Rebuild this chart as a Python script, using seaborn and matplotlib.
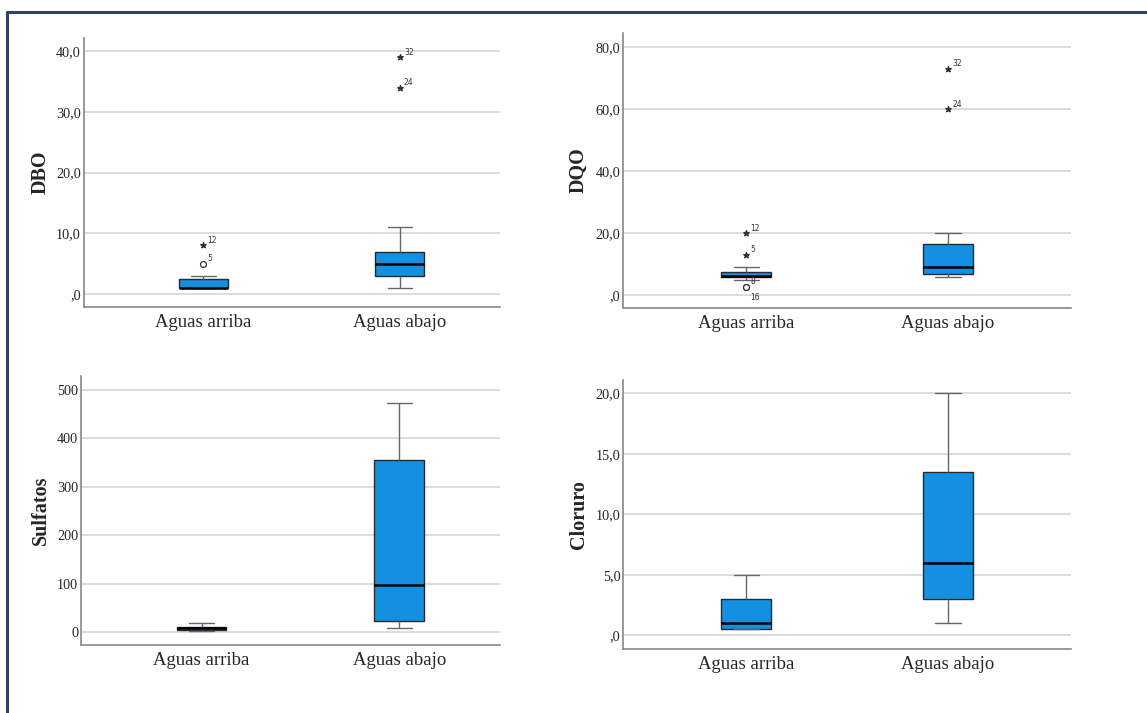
"""
Boxplots DBO / DQO / Sulfatos / Cloruro, aguas arriba vs aguas abajo
"""
import pandas as pd
import matplotlib
matplotlib.use('Agg')
import matplotlib.pyplot as plt
from matplotlib.lines import Line2D
import seaborn as sns

sns.set_style('white')
plt.rcParams['font.family'] = ['Liberation Serif', 'DejaVu Serif']

groups = ['Aguas arriba', 'Aguas abajo']

# five-number summaries: min, Q1, median, Q3, max
dbo_arriba = [1.0, 1.0, 1.0, 2.5, 3.0]
dbo_abajo = [1.0, 3.0, 5.0, 7.0, 11.0]
dqo_arriba = [5.0, 6.0, 6.3, 7.6, 9.0]
dqo_abajo = [6.0, 7.0, 9.0, 16.5, 20.0]
sulf_arriba = [2.0, 4.8, 8.0, 11.7, 19.0]
sulf_abajo = [9.6, 22.7, 97.0, 355.5, 473.0]
clor_arriba = [0.5, 0.5, 1.0, 3.0, 5.0]
clor_abajo = [1.0, 3.0, 6.0, 13.5, 20.0]

# outliers: (group index, value, marker, case label)
dbo_out = [(0, 5.0, 'o', '5'), (0, 8.0, '*', '12'), (1, 34.0, '*', '24'), (1, 39.0, '*', '32')]
dqo_out = [(0, 2.6, 'o', '8'), (0, 2.6, 'o', '16'), (0, 13.0, '*', '5'), (0, 20.0, '*', '12'),
           (1, 60.0, '*', '24'), (1, 73.0, '*', '32')]

dbo_ticks = [0, 10, 20, 30, 40]
dbo_labels = [',0', '10,0', '20,0', '30,0', '40,0']
dqo_ticks = [0, 20, 40, 60, 80]
dqo_labels = [',0', '20,0', '40,0', '60,0', '80,0']
sulf_ticks = [0, 100, 200, 300, 400, 500]
sulf_labels = ['0', '100', '200', '300', '400', '500']
clor_ticks = [0, 5, 10, 15, 20]
clor_labels = [',0', '5,0', '10,0', '15,0', '20,0']

BOX_COLOR = '#1490E3'


def draw_panel(ax, arriba, abajo, name, ticks, ticklabels, ylim, xright, outliers=None,
               label_x=-0.08):
    df = pd.DataFrame({
        'grupo': [groups[0]] * len(arriba) + [groups[1]] * len(abajo),
        'valor': arriba + abajo,
    })
    sns.boxplot(
        data=df, x='grupo', y='valor', ax=ax,
        order=groups, width=0.25, color=BOX_COLOR, saturation=1,
        whis=(0, 100), showfliers=False, linewidth=1,
        boxprops={'edgecolor': '#2a2a2a'},
        medianprops={'color': 'black', 'linewidth': 1.8},
        whiskerprops={'color': '#666666', 'linewidth': 1},
        capprops={'color': '#666666', 'linewidth': 1},
    )

    if outliers:
        for gi, val, mk, lab in outliers:
            if mk == 'o':
                ax.scatter(gi, val, marker='o', s=18, facecolors='white',
                           edgecolors='#333333', linewidths=0.9, zorder=4)
            else:
                ax.scatter(gi, val, marker='*', s=16, color='#333333', zorder=4)
            dy = -9 if lab == '16' else 2
            ax.annotate(lab, (gi, val), xytext=(3, dy), textcoords='offset points',
                        fontsize=5.5, family='DejaVu Sans', color='#333333')

    ax.set_ylim(*ylim)
    ax.set_xlim(-0.61, xright)
    ax.set_yticks(ticks)
    ax.set_yticklabels(ticklabels)
    ax.yaxis.grid(True, color='#d9d9d9', linewidth=1.3)
    ax.xaxis.grid(False)
    ax.set_axisbelow(True)

    ax.tick_params(axis='y', length=0, pad=2, labelsize=10.3)
    ax.tick_params(axis='x', length=0, pad=5, labelsize=13.5)
    ax.set_xlabel('')
    ax.set_ylabel(name, fontsize=14.5, fontweight='bold')
    ax.yaxis.set_label_coords(label_x, 0.5)

    for side in ['top', 'right']:
        ax.spines[side].set_visible(False)
    for side in ['left', 'bottom']:
        ax.spines[side].set_color('#888888')
        ax.spines[side].set_linewidth(1.2)


fig = plt.figure(figsize=(11.47, 7.13), dpi=100)

ax1 = fig.add_axes([0.0728, 0.5694, 0.3631, 0.3773])
ax2 = fig.add_axes([0.5434, 0.5680, 0.3903, 0.3857])
ax3 = fig.add_axes([0.0706, 0.0954, 0.3653, 0.3773])
ax4 = fig.add_axes([0.5434, 0.0902, 0.3903, 0.3769])

draw_panel(ax1, dbo_arriba, dbo_abajo, 'DBO', dbo_ticks, dbo_labels, (-2.15, 42.2), 1.51,
           outliers=dbo_out, label_x=-0.078)
draw_panel(ax2, dqo_arriba, dqo_abajo, 'DQO', dqo_ticks, dqo_labels, (-4.1, 84.6), 1.61,
           outliers=dqo_out, label_x=-0.077)
draw_panel(ax3, sulf_arriba, sulf_abajo, 'Sulfatos', sulf_ticks, sulf_labels, (-26, 529), 1.51,
           label_x=-0.072)
draw_panel(ax4, clor_arriba, clor_abajo, 'Cloruro', clor_ticks, clor_labels, (-1.1, 21.1), 1.61,
           label_x=-0.077)

# navy frame along top and left edge of the screenshot
frame_color = '#2B4468'
fig.add_artist(Line2D([0.0061, 1.0], [1 - 11.5 / 713, 1 - 11.5 / 713],
                      transform=fig.transFigure, color=frame_color, linewidth=2.2))
fig.add_artist(Line2D([0.0061, 0.0061], [0.0, 1 - 11.5 / 713],
                      transform=fig.transFigure, color=frame_color, linewidth=2.2))

fig.savefig('out.png', dpi=100)
plt.close(fig)
